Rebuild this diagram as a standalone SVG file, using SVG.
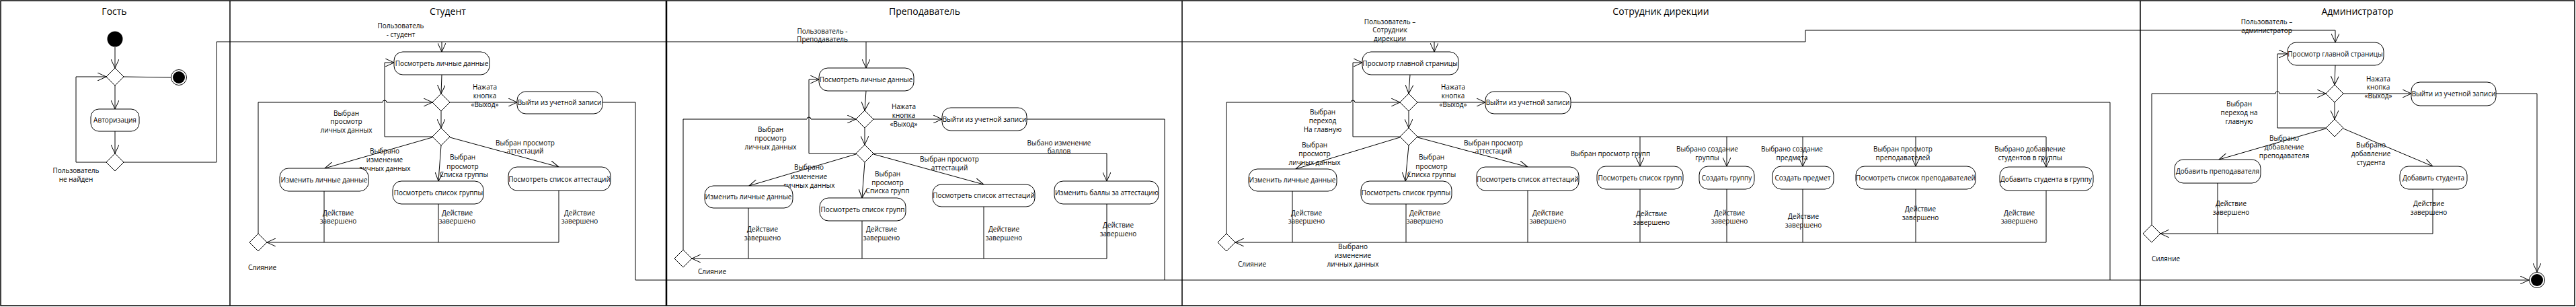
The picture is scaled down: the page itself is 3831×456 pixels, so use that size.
<svg xmlns="http://www.w3.org/2000/svg" width="3831" height="456" viewBox="0 0 3831 456">
<defs>
<marker id="a" viewBox="0 0 14 12" refX="13" refY="6" markerWidth="14" markerHeight="12" orient="auto" markerUnits="userSpaceOnUse"><path d="M0,0 L13,6 L0,12" fill="none" stroke="#000" stroke-width="1"/></marker>
</defs>
<style>
.b{fill:#fff;stroke:#000;stroke-width:1}
.d{fill:#fff;stroke:#000;stroke-width:1}
.c path{fill:none;stroke:#000;stroke-width:1}
.ar{marker-end:url(#a)}
.lane{fill:none;stroke:#000;stroke-width:1.5}
text{font-family:"Open Sans","Noto Sans","DejaVu Sans",sans-serif;font-size:10px;text-anchor:middle;dominant-baseline:central;fill:#000}
.h{font-size:14px}
</style>
<rect width="3831" height="456" fill="#fff"/>
<g id="frame">
<rect class="lane" x="1" y="1" width="3828" height="453"/>
<path class="lane" d="M342,1 V454 M1758,1 V454 M3183,1 V454"/>
<path d="M991,1 V454" stroke="#000" stroke-width="2.5"/>
<text class="h" x="170" y="16">Гость</text>
<text class="h" x="666" y="16">Студент</text>
<text class="h" x="1375" y="16">Преподаватель</text>
<text class="h" x="2470" y="16">Сотрудник дирекции</text>
<text class="h" x="3506" y="16">Администратор</text>
</g>
<g id="connectors" class="c">
<path class="ar" d="M171,70 L171,101"/>
<path d="M184,114 L254,115"/>
<path class="ar" d="M171,127 L171,162"/>
<path class="ar" d="M171,195 L171,228"/>
<path class="ar" d="M158,241 L113,241 L113,114 L158,114"/>
<path class="ar" d="M184,241 L322,241 L322,62 L2685,62 L2685,45 L3473,45 L3473,63"/>
<path class="ar" d="M657,62 L657,77"/>
<path class="ar" d="M1288,62 L1288,101"/>
<path class="ar" d="M2133,62 L2133,77"/>
<path class="ar" d="M657,111 L656,139"/>
<path class="ar" d="M669,152 L769,152"/>
<path class="ar" d="M896,152 L945,152 L945,416 L3761,416"/>
<path class="ar" d="M656,165 L656,190"/>
<path class="ar" d="M643,203 L572,203 L572,93 L586,93"/>
<path class="ar" d="M384,347 L384,152 L569,152 A3,3 0 0 1 575,152 L643,152"/>
<path class="ar" d="M643,204 L483,250"/>
<path class="ar" d="M656,216 L652,269"/>
<path class="ar" d="M669,204 L831,248"/>
<path d="M482,284 L482,360"/>
<path d="M652,303 L652,360"/>
<path class="ar" d="M831,283 L831,360 L397,360"/>
<path class="ar" d="M1288,135 L1286,164"/>
<path class="ar" d="M1299,177 L1401,177"/>
<path d="M1527,177 L1732,177 L1732,416"/>
<path class="ar" d="M1286,190 L1286,215"/>
<path class="ar" d="M1273,228 L1203,228 L1203,118 L1218,118"/>
<path class="ar" d="M1016,372 L1016,177 L1200,177 A3,3 0 0 1 1206,177 L1273,177"/>
<path class="ar" d="M1273,229 L1114,276"/>
<path class="ar" d="M1286,241 L1282,294"/>
<path class="ar" d="M1299,229 L1463,274"/>
<path class="ar" d="M1299,228 L1646,228 L1646,269"/>
<path d="M1113,309 L1113,384"/>
<path d="M1282,328 L1282,384"/>
<path d="M1463,307 L1463,384"/>
<path class="ar" d="M1646,303 L1646,384 L1029,384"/>
<path class="ar" d="M2097,111 L2095,139"/>
<path class="ar" d="M2108,152 L2209,152"/>
<path d="M2336,152 L3138,152 L3138,416"/>
<path class="ar" d="M2095,165 L2095,190"/>
<path class="ar" d="M2082,203 L2012,203 L2012,93 L2026,93"/>
<path class="ar" d="M1824,347 L1824,152 L2009,152 A3,3 0 0 1 2015,152 L2082,152"/>
<path class="ar" d="M2082,204 L1927,251"/>
<path class="ar" d="M2095,216 L2090,269"/>
<path class="ar" d="M2108,204 L2272,248"/>
<path class="ar" d="M2108,203 L3043,203 L3043,248"/>
<path class="ar" d="M2439,203 L2439,247"/>
<path class="ar" d="M2568,203 L2568,247"/>
<path class="ar" d="M2681,203 L2681,247"/>
<path class="ar" d="M2849,203 L2849,247"/>
<path d="M1922,284 L1922,360"/>
<path d="M2091,303 L2091,360"/>
<path d="M2272,283 L2272,360"/>
<path d="M2439,281 L2439,360"/>
<path d="M2568,281 L2568,360"/>
<path d="M2681,281 L2681,360"/>
<path d="M2849,281 L2849,360"/>
<path class="ar" d="M3043,283 L3043,360 L1837,360"/>
<path class="ar" d="M3473,97 L3472,126"/>
<path class="ar" d="M3485,139 L3586,139"/>
<path class="ar" d="M3712,139 L3773,139 L3773,404"/>
<path class="ar" d="M3472,152 L3472,177"/>
<path class="ar" d="M3459,190 L3387,190 L3387,80 L3402,80"/>
<path class="ar" d="M3200,334 L3200,139 L3384,139 A3,3 0 0 1 3390,139 L3459,139"/>
<path class="ar" d="M3459,191 L3300,237"/>
<path class="ar" d="M3485,191 L3618,247"/>
<path d="M3298,272 L3298,347"/>
<path class="ar" d="M3618,281 L3618,347 L3213,347"/>
</g>
<g id="labels">
<text x="113" y="253">Пользователь</text><text x="113" y="266">не найден</text>
<text x="596" y="38">Пользователь</text><text x="596" y="51">- студент</text>
<text x="721" y="129">Нажата</text><text x="721" y="142">кнопка</text><text x="721" y="155">«Выход»</text>
<text x="515" y="168">Выбран</text><text x="515" y="180">просмотр</text><text x="515" y="193">личных данных</text>
<text x="572" y="224">Выбрано</text><text x="572" y="237">изменение</text><text x="572" y="250">личных данных</text>
<text x="688" y="233">Выбран</text><text x="688" y="247">просмотр</text><text x="690" y="259">Списка группы</text>
<text x="781" y="212">Выбран просмотр</text><text x="781" y="224">аттестаций</text>
<text x="503" y="316">Действие</text><text x="503" y="328">завершено</text>
<text x="680" y="316">Действие</text><text x="680" y="328">завершено</text>
<text x="862" y="316">Действие</text><text x="862" y="328">завершено</text>
<text x="390" y="397">Слияние</text>
<text x="1223" y="46">Пользователь -</text><text x="1223" y="58">Преподаватель</text>
<text x="1344" y="158">Нажата</text><text x="1344" y="171">кнопка</text><text x="1344" y="184">«Выход»</text>
<text x="1146" y="192">Выбран</text><text x="1146" y="205">просмотр</text><text x="1146" y="218">личных данных</text>
<text x="1203" y="248">Выбрано</text><text x="1203" y="262">изменение</text><text x="1203" y="275">личных данных</text>
<text x="1320" y="258">Выбран</text><text x="1320" y="271">просмотр</text><text x="1320" y="283">Списка групп</text>
<text x="1412" y="236">Выбран просмотр</text><text x="1412" y="249">аттестаций</text>
<text x="1575" y="212">Выбано изменение</text><text x="1575" y="224">баллов</text>
<text x="1134" y="340">Действие</text><text x="1134" y="353">завершено</text>
<text x="1311" y="340">Действие</text><text x="1311" y="353">завершено</text>
<text x="1493" y="340">Действие</text><text x="1493" y="353">завершено</text>
<text x="1663" y="334">Действие</text><text x="1663" y="347">завершено</text>
<text x="1059" y="403">Слияние</text>
<text x="2067" y="32">Пользователь –</text><text x="2067" y="44">Сотрудник</text><text x="2067" y="57">дирекции</text>
<text x="2161" y="129">Нажата</text><text x="2161" y="142">кнопка</text><text x="2161" y="155">«Выход»</text>
<text x="1967" y="166">Выбран</text><text x="1967" y="179">переход</text><text x="1967" y="192">На главную</text>
<text x="1955" y="215">Выбран</text><text x="1955" y="228">просмотр</text><text x="1955" y="241">личных данных</text>
<text x="2012" y="366">Выбрано</text><text x="2012" y="379">изменение</text><text x="2012" y="392">личных данных</text>
<text x="2129" y="233">Выбран</text><text x="2129" y="247">просмотр</text><text x="2129" y="259">Списка группы</text>
<text x="2221" y="212">Выбран просмотр</text><text x="2221" y="224">аттестаций</text>
<text x="2395" y="228">Выбран просмотр групп</text>
<text x="2539" y="221">Выбрано создание</text><text x="2539" y="234">группы</text>
<text x="2665" y="221">Выбрано создание</text><text x="2665" y="234">предмета</text>
<text x="2830" y="221">Выбран просмотр</text><text x="2830" y="234">преподавателей</text>
<text x="3019" y="221">Выбрано добавление</text><text x="3019" y="234">студентов в группы</text>
<text x="1943" y="316">Действие</text><text x="1943" y="328">завершено</text>
<text x="2119" y="316">Действие</text><text x="2119" y="328">завершено</text>
<text x="2302" y="316">Действие</text><text x="2302" y="328">завершено</text>
<text x="2456" y="317">Действие</text><text x="2456" y="330">завершено</text>
<text x="2572" y="316">Действие</text><text x="2572" y="328">завершено</text>
<text x="2682" y="321">Действие</text><text x="2682" y="334">завершено</text>
<text x="2856" y="310">Действие</text><text x="2856" y="323">завершено</text>
<text x="3003" y="316">Действие</text><text x="3003" y="328">завершено</text>
<text x="1862" y="392">Слияние</text>
<text x="3371" y="32">Пользователь –</text><text x="3371" y="45">администратор</text>
<text x="3537" y="117">Нажата</text><text x="3537" y="129">кнопка</text><text x="3537" y="142">«Выход»</text>
<text x="3330" y="154">Выбран</text><text x="3330" y="167">переход на</text><text x="3330" y="180">главную</text>
<text x="3397" y="205">Выбрано</text><text x="3397" y="218">добавление</text><text x="3397" y="231">преподавателя</text>
<text x="3526" y="215">Выбрано</text><text x="3526" y="228">добавление</text><text x="3526" y="241">студента</text>
<text x="3318" y="302">Действие</text><text x="3318" y="315">завершено</text>
<text x="3612" y="302">Действие</text><text x="3612" y="315">завершено</text>
<text x="3221" y="384">Силяние</text>
</g>
<g id="g-start"><circle cx="171" cy="58" r="11.5" fill="#000"/></g>
<g id="g-end"><circle cx="266" cy="115" r="11.5" fill="#fff" stroke="#000"/><circle cx="266" cy="115" r="9" fill="#000"/></g>
<g id="g-d1"><polygon class="d" points="171,101 184,114 171,127 158,114"/></g>
<g id="g-auth"><rect class="b" x="135" y="162" width="72" height="33" rx="12"/><text x="171" y="178">Авторизация</text></g>
<g id="g-d2"><polygon class="d" points="171,228 184,241 171,254 158,241"/></g>
<g id="s-view"><rect class="b" x="586" y="77" width="142" height="34" rx="13"/><text x="657" y="94">Посмотреть личные данные</text></g>
<g id="s-da"><polygon class="d" points="656,139 669,152 656,165 643,152"/></g>
<g id="s-db"><polygon class="d" points="656,190 669,203 656,216 643,203"/></g>
<g id="s-exit"><rect class="b" x="769" y="136" width="127" height="33" rx="13"/><text x="832" y="152">Выйти из учетной записи</text></g>
<g id="s-edit"><rect class="b" x="416" y="250" width="132" height="34" rx="13"/><text x="482" y="267">Изменить личные данные</text></g>
<g id="s-group"><rect class="b" x="584" y="269" width="135" height="34" rx="13"/><text x="652" y="286">Посмотреть список группы</text></g>
<g id="s-att"><rect class="b" x="756" y="248" width="152" height="35" rx="13"/><text x="832" y="266">Посмотреть список аттестаций</text></g>
<g id="s-merge"><polygon class="d" points="384,347 397,360 384,373 371,360"/></g>
<g id="t-view"><rect class="b" x="1218" y="101" width="141" height="34" rx="13"/><text x="1288" y="118">Посмотреть личные данные</text></g>
<g id="t-da"><polygon class="d" points="1286,164 1299,177 1286,190 1273,177"/></g>
<g id="t-db"><polygon class="d" points="1286,215 1299,228 1286,241 1273,228"/></g>
<g id="t-exit"><rect class="b" x="1401" y="160" width="126" height="34" rx="13"/><text x="1464" y="177">Выйти из учетной записи</text></g>
<g id="t-edit"><rect class="b" x="1048" y="276" width="131" height="33" rx="13"/><text x="1113" y="292">Изменить личные данные</text></g>
<g id="t-groups"><rect class="b" x="1219" y="294" width="128" height="34" rx="13"/><text x="1283" y="311">Посмотреть список групп</text></g>
<g id="t-att"><rect class="b" x="1387" y="274" width="152" height="33" rx="13"/><text x="1463" y="290">Посмотреть список аттестаций</text></g>
<g id="t-score"><rect class="b" x="1568" y="269" width="155" height="34" rx="13"/><text x="1646" y="286">Изменить баллы за аттестацию</text></g>
<g id="t-merge"><polygon class="d" points="1016,371 1029,384 1016,397 1003,384"/></g>
<g id="d-main"><rect class="b" x="2026" y="77" width="143" height="34" rx="13"/><text x="2097" y="94">Просмотр главной страницы</text></g>
<g id="d-da"><polygon class="d" points="2095,139 2108,152 2095,165 2082,152"/></g>
<g id="d-db"><polygon class="d" points="2095,190 2108,203 2095,216 2082,203"/></g>
<g id="d-exit"><rect class="b" x="2209" y="136" width="127" height="33" rx="13"/><text x="2272" y="152">Выйти из учетной записи</text></g>
<g id="d-edit"><rect class="b" x="1857" y="251" width="131" height="33" rx="13"/><text x="1922" y="267">Изменить личные данные</text></g>
<g id="d-group"><rect class="b" x="2024" y="269" width="135" height="34" rx="13"/><text x="2091" y="286">Посмотреть список группы</text></g>
<g id="d-att"><rect class="b" x="2196" y="248" width="152" height="35" rx="13"/><text x="2272" y="266">Посмотреть список аттестаций</text></g>
<g id="d-groups"><rect class="b" x="2375" y="247" width="128" height="34" rx="13"/><text x="2439" y="264">Посмотреть список групп</text></g>
<g id="d-newgroup"><rect class="b" x="2527" y="247" width="82" height="34" rx="13"/><text x="2568" y="264">Создать группу</text></g>
<g id="d-subject"><rect class="b" x="2636" y="247" width="91" height="34" rx="13"/><text x="2681" y="264">Создать предмет</text></g>
<g id="d-teachers"><rect class="b" x="2760" y="247" width="178" height="34" rx="13"/><text x="2849" y="264">Посмотреть список преподавателей</text></g>
<g id="d-addst"><rect class="b" x="2974" y="248" width="139" height="35" rx="13"/><text x="3043" y="266">Добавить студента в группу</text></g>
<g id="d-merge"><polygon class="d" points="1824,347 1837,360 1824,373 1811,360"/></g>
<g id="a-main"><rect class="b" x="3402" y="63" width="143" height="34" rx="13"/><text x="3473" y="80">Просмотр главной страницы</text></g>
<g id="a-da"><polygon class="d" points="3472,126 3485,139 3472,152 3459,139"/></g>
<g id="a-db"><polygon class="d" points="3472,177 3485,190 3472,203 3459,190"/></g>
<g id="a-exit"><rect class="b" x="3586" y="122" width="126" height="35" rx="13"/><text x="3649" y="139">Выйти из учетной записи</text></g>
<g id="a-teacher"><rect class="b" x="3234" y="237" width="128" height="35" rx="13"/><text x="3298" y="254">Добавить преподавателя</text></g>
<g id="a-student"><rect class="b" x="3569" y="247" width="100" height="34" rx="13"/><text x="3619" y="264">Добавить студента</text></g>
<g id="a-merge"><polygon class="d" points="3200,334 3213,347 3200,360 3187,347"/></g>
<g id="final"><circle cx="3773" cy="416" r="11.5" fill="#fff" stroke="#000"/><circle cx="3773" cy="416" r="9" fill="#000"/></g>
</svg>
